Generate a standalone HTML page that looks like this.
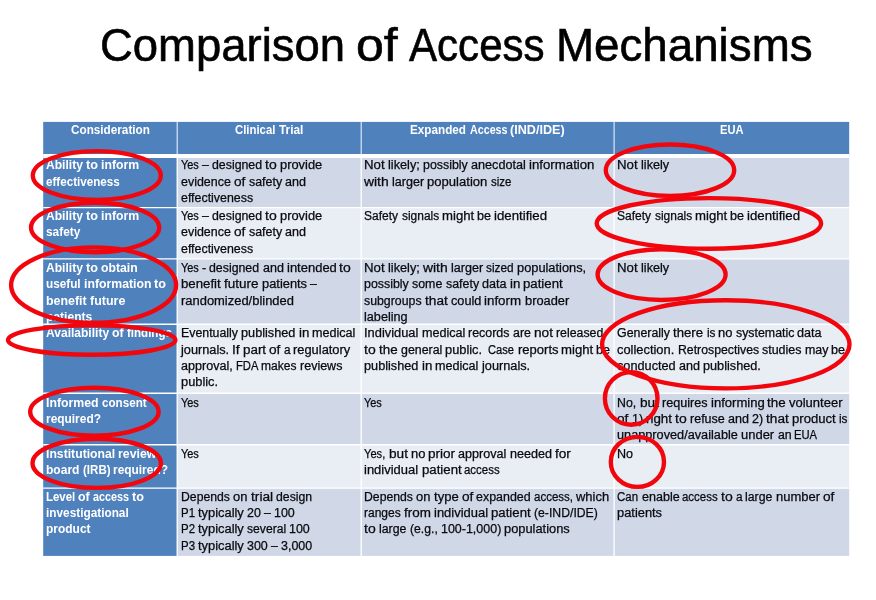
<!DOCTYPE html>
<html><head><meta charset="utf-8">
<style>
html,body{margin:0;padding:0;background:#fff;}
body{width:876px;height:600px;position:relative;overflow:hidden;font-family:"Liberation Sans",sans-serif;}
svg{position:absolute;left:0;top:0;}
.t{position:absolute;white-space:pre;line-height:20px;height:20px;transform-origin:0 0;font-size:12.5px;}
.w{color:#fff;font-weight:bold;}
.k{color:#0c0d14;-webkit-text-stroke:0.25px #000;}
.title{position:absolute;white-space:pre;color:#000;transform-origin:0 0;-webkit-text-stroke:0.6px #000;}
#wrap{position:absolute;left:0;top:0;width:876px;height:600px;filter:blur(0.6px);}
</style></head><body><div id="wrap">
<svg width="876" height="600" viewBox="0 0 876 600">
<rect x="43.20" y="121.90" width="134.00" height="34.05" fill="#4f81bd"/>
<rect x="177.20" y="121.90" width="184.00" height="34.05" fill="#4f81bd"/>
<rect x="361.20" y="121.90" width="252.90" height="34.05" fill="#4f81bd"/>
<rect x="614.10" y="121.90" width="235.10" height="34.05" fill="#4f81bd"/>
<rect x="43.20" y="155.95" width="134.00" height="51.65" fill="#4f81bd"/>
<rect x="177.20" y="155.95" width="184.00" height="51.65" fill="#d0d8e8"/>
<rect x="361.20" y="155.95" width="252.90" height="51.65" fill="#d0d8e8"/>
<rect x="614.10" y="155.95" width="235.10" height="51.65" fill="#d0d8e8"/>
<rect x="43.20" y="207.60" width="134.00" height="51.30" fill="#4f81bd"/>
<rect x="177.20" y="207.60" width="184.00" height="51.30" fill="#e9edf4"/>
<rect x="361.20" y="207.60" width="252.90" height="51.30" fill="#e9edf4"/>
<rect x="614.10" y="207.60" width="235.10" height="51.30" fill="#e9edf4"/>
<rect x="43.20" y="258.90" width="134.00" height="65.40" fill="#4f81bd"/>
<rect x="177.20" y="258.90" width="184.00" height="65.40" fill="#d0d8e8"/>
<rect x="361.20" y="258.90" width="252.90" height="65.40" fill="#d0d8e8"/>
<rect x="614.10" y="258.90" width="235.10" height="65.40" fill="#d0d8e8"/>
<rect x="43.20" y="324.30" width="134.00" height="69.00" fill="#4f81bd"/>
<rect x="177.20" y="324.30" width="184.00" height="69.00" fill="#e9edf4"/>
<rect x="361.20" y="324.30" width="252.90" height="69.00" fill="#e9edf4"/>
<rect x="614.10" y="324.30" width="235.10" height="69.00" fill="#e9edf4"/>
<rect x="43.20" y="393.30" width="134.00" height="51.50" fill="#4f81bd"/>
<rect x="177.20" y="393.30" width="184.00" height="51.50" fill="#d0d8e8"/>
<rect x="361.20" y="393.30" width="252.90" height="51.50" fill="#d0d8e8"/>
<rect x="614.10" y="393.30" width="235.10" height="51.50" fill="#d0d8e8"/>
<rect x="43.20" y="444.80" width="134.00" height="43.30" fill="#4f81bd"/>
<rect x="177.20" y="444.80" width="184.00" height="43.30" fill="#e9edf4"/>
<rect x="361.20" y="444.80" width="252.90" height="43.30" fill="#e9edf4"/>
<rect x="614.10" y="444.80" width="235.10" height="43.30" fill="#e9edf4"/>
<rect x="43.20" y="488.10" width="134.00" height="67.80" fill="#4f81bd"/>
<rect x="177.20" y="488.10" width="184.00" height="67.80" fill="#d0d8e8"/>
<rect x="361.20" y="488.10" width="252.90" height="67.80" fill="#d0d8e8"/>
<rect x="614.10" y="488.10" width="235.10" height="67.80" fill="#d0d8e8"/>
<line x1="177.20" y1="155.95" x2="177.20" y2="555.90" stroke="#fff" stroke-width="1.3"/>
<line x1="177.20" y1="121.90" x2="177.20" y2="155.95" stroke="#d6e4f8" stroke-width="1.2"/>
<line x1="361.20" y1="155.95" x2="361.20" y2="555.90" stroke="#fff" stroke-width="1.3"/>
<line x1="361.20" y1="121.90" x2="361.20" y2="155.95" stroke="#d6e4f8" stroke-width="1.2"/>
<line x1="614.10" y1="155.95" x2="614.10" y2="555.90" stroke="#fff" stroke-width="1.3"/>
<line x1="614.10" y1="121.90" x2="614.10" y2="155.95" stroke="#d6e4f8" stroke-width="1.2"/>
<line x1="43.20" y1="155.95" x2="849.20" y2="155.95" stroke="#fff" stroke-width="4.1"/>
<line x1="43.20" y1="207.60" x2="849.20" y2="207.60" stroke="#fff" stroke-width="1.4"/>
<line x1="43.20" y1="258.90" x2="849.20" y2="258.90" stroke="#fff" stroke-width="1.4"/>
<line x1="43.20" y1="324.30" x2="849.20" y2="324.30" stroke="#fff" stroke-width="1.4"/>
<line x1="43.20" y1="393.30" x2="849.20" y2="393.30" stroke="#fff" stroke-width="1.4"/>
<line x1="43.20" y1="444.80" x2="849.20" y2="444.80" stroke="#fff" stroke-width="1.4"/>
<line x1="43.20" y1="488.10" x2="849.20" y2="488.10" stroke="#fff" stroke-width="1.4"/>
</svg>
<div class="title" style="left:99.70px;top:14.96px;font-size:46.00px;line-height:60px;height:60px;transform:scaleX(0.9880);">Comparison</div>
<div class="title" style="left:356.06px;top:14.96px;font-size:46.00px;line-height:60px;height:60px;transform:scaleX(1.0883);">of</div>
<div class="title" style="left:409.15px;top:14.96px;font-size:46.00px;line-height:60px;height:60px;transform:scaleX(0.9147);">Access</div>
<div class="title" style="left:556.10px;top:14.96px;font-size:46.00px;line-height:60px;height:60px;transform:scaleX(0.9937);">Mechanisms</div>
<div class="t w" style="left:70.76px;top:120.07px;transform:scaleX(0.939)">Consideration</div>
<div class="t w" style="left:235.24px;top:120.07px;transform:scaleX(0.909)">Clinical</div><div class="t w" style="left:278.75px;top:120.07px;transform:scaleX(0.949)">Trial</div>
<div class="t w" style="left:410.49px;top:120.07px;transform:scaleX(0.937)">Expanded</div><div class="t w" style="left:469.55px;top:120.07px;transform:scaleX(0.857)">Access</div><div class="t w" style="left:510.18px;top:120.07px;transform:scaleX(1.009)">(IND/IDE)</div>
<div class="t w" style="left:719.89px;top:120.07px;transform:scaleX(0.891)">EUA</div>
<div class="t w" style="left:46.10px;top:155.32px;transform:scaleX(0.967)">Ability</div><div class="t w" style="left:86.13px;top:155.32px;transform:scaleX(1.014)">to</div><div class="t w" style="left:101.18px;top:155.32px;transform:scaleX(0.980)">inform</div>
<div class="t w" style="left:46.10px;top:171.62px;transform:scaleX(0.931)">effectiveness</div>
<div class="t k" style="left:181.10px;top:155.32px;transform:scaleX(0.875)">Yes</div><div class="t k" style="left:202.03px;top:155.32px;transform:scaleX(0.980)">–</div><div class="t k" style="left:211.94px;top:155.32px;transform:scaleX(0.987)">designed</div><div class="t k" style="left:265.14px;top:155.32px;transform:scaleX(1.119)">to</div><div class="t k" style="left:279.89px;top:155.32px;transform:scaleX(1.029)">provide</div>
<div class="t k" style="left:181.10px;top:171.62px;transform:scaleX(0.996)">evidence</div><div class="t k" style="left:234.02px;top:171.62px;transform:scaleX(1.092)">of</div><div class="t k" style="left:248.51px;top:171.62px;transform:scaleX(0.994)">safety</div><div class="t k" style="left:284.76px;top:171.62px;transform:scaleX(1.003)">and</div>
<div class="t k" style="left:181.10px;top:187.92px;transform:scaleX(0.991)">effectiveness</div>
<div class="t k" style="left:364.40px;top:155.32px;transform:scaleX(1.060)">Not</div><div class="t k" style="left:388.12px;top:155.32px;transform:scaleX(1.019)">likely;</div><div class="t k" style="left:423.07px;top:155.32px;transform:scaleX(0.991)">possibly</div><div class="t k" style="left:470.92px;top:155.32px;transform:scaleX(1.012)">anecdotal</div><div class="t k" style="left:528.85px;top:155.32px;transform:scaleX(1.059)">information</div>
<div class="t k" style="left:364.40px;top:171.62px;transform:scaleX(1.111)">with</div><div class="t k" style="left:392.18px;top:171.62px;transform:scaleX(1.007)">larger</div><div class="t k" style="left:427.45px;top:171.62px;transform:scaleX(1.046)">population</div><div class="t k" style="left:490.91px;top:171.62px;transform:scaleX(0.917)">size</div>
<div class="t k" style="left:617.40px;top:155.32px;transform:scaleX(1.060)">Not</div><div class="t k" style="left:641.12px;top:155.32px;transform:scaleX(1.015)">likely</div>
<div class="t w" style="left:46.10px;top:206.17px;transform:scaleX(0.967)">Ability</div><div class="t w" style="left:86.13px;top:206.17px;transform:scaleX(1.014)">to</div><div class="t w" style="left:101.18px;top:206.17px;transform:scaleX(0.980)">inform</div>
<div class="t w" style="left:46.10px;top:222.47px;transform:scaleX(0.948)">safety</div>
<div class="t k" style="left:181.10px;top:206.17px;transform:scaleX(0.875)">Yes</div><div class="t k" style="left:202.03px;top:206.17px;transform:scaleX(0.980)">–</div><div class="t k" style="left:211.94px;top:206.17px;transform:scaleX(0.987)">designed</div><div class="t k" style="left:265.14px;top:206.17px;transform:scaleX(1.119)">to</div><div class="t k" style="left:279.89px;top:206.17px;transform:scaleX(1.029)">provide</div>
<div class="t k" style="left:181.10px;top:222.47px;transform:scaleX(0.996)">evidence</div><div class="t k" style="left:234.02px;top:222.47px;transform:scaleX(1.092)">of</div><div class="t k" style="left:248.51px;top:222.47px;transform:scaleX(0.994)">safety</div><div class="t k" style="left:284.76px;top:222.47px;transform:scaleX(1.003)">and</div>
<div class="t k" style="left:181.10px;top:238.77px;transform:scaleX(0.991)">effectiveness</div>
<div class="t k" style="left:364.40px;top:206.17px;transform:scaleX(0.962)">Safety</div><div class="t k" style="left:401.59px;top:206.17px;transform:scaleX(0.955)">signals</div><div class="t k" style="left:441.84px;top:206.17px;transform:scaleX(1.052)">might</div><div class="t k" style="left:477.09px;top:206.17px;transform:scaleX(1.006)">be</div><div class="t k" style="left:494.17px;top:206.17px;transform:scaleX(1.060)">identified</div>
<div class="t k" style="left:617.40px;top:206.17px;transform:scaleX(0.962)">Safety</div><div class="t k" style="left:654.59px;top:206.17px;transform:scaleX(0.955)">signals</div><div class="t k" style="left:694.84px;top:206.17px;transform:scaleX(1.052)">might</div><div class="t k" style="left:730.09px;top:206.17px;transform:scaleX(1.006)">be</div><div class="t k" style="left:747.17px;top:206.17px;transform:scaleX(1.060)">identified</div>
<div class="t w" style="left:46.10px;top:258.17px;transform:scaleX(0.967)">Ability</div><div class="t w" style="left:86.13px;top:258.17px;transform:scaleX(1.014)">to</div><div class="t w" style="left:101.18px;top:258.17px;transform:scaleX(0.979)">obtain</div>
<div class="t w" style="left:46.10px;top:274.47px;transform:scaleX(0.940)">useful</div><div class="t w" style="left:83.81px;top:274.47px;transform:scaleX(0.981)">information</div><div class="t w" style="left:154.33px;top:274.47px;transform:scaleX(1.014)">to</div>
<div class="t w" style="left:46.10px;top:290.77px;transform:scaleX(0.993)">benefit</div><div class="t w" style="left:89.87px;top:290.77px;transform:scaleX(0.998)">future</div>
<div class="t w" style="left:46.10px;top:307.07px;transform:scaleX(0.966)">patients</div>
<div class="t k" style="left:181.10px;top:258.17px;transform:scaleX(0.875)">Yes</div><div class="t k" style="left:202.03px;top:258.17px;transform:scaleX(1.006)">-</div><div class="t k" style="left:209.32px;top:258.17px;transform:scaleX(0.987)">designed</div><div class="t k" style="left:262.51px;top:258.17px;transform:scaleX(1.003)">and</div><div class="t k" style="left:286.53px;top:258.17px;transform:scaleX(1.039)">intended</div><div class="t k" style="left:339.44px;top:258.17px;transform:scaleX(1.119)">to</div>
<div class="t k" style="left:181.10px;top:274.47px;transform:scaleX(1.058)">benefit</div><div class="t k" style="left:223.88px;top:274.47px;transform:scaleX(1.080)">future</div><div class="t k" style="left:261.50px;top:274.47px;transform:scaleX(1.029)">patients</div><div class="t k" style="left:309.63px;top:274.47px;transform:scaleX(0.980)">–</div>
<div class="t k" style="left:181.10px;top:290.77px;transform:scaleX(1.035)">randomized/blinded</div>
<div class="t k" style="left:364.40px;top:258.17px;transform:scaleX(1.060)">Not</div><div class="t k" style="left:388.12px;top:258.17px;transform:scaleX(1.019)">likely;</div><div class="t k" style="left:423.07px;top:258.17px;transform:scaleX(1.111)">with</div><div class="t k" style="left:450.85px;top:258.17px;transform:scaleX(1.007)">larger</div><div class="t k" style="left:486.12px;top:258.17px;transform:scaleX(0.945)">sized</div><div class="t k" style="left:516.79px;top:258.17px;transform:scaleX(1.025)">populations,</div>
<div class="t k" style="left:364.40px;top:274.47px;transform:scaleX(0.991)">possibly</div><div class="t k" style="left:412.25px;top:274.47px;transform:scaleX(0.991)">some</div><div class="t k" style="left:445.65px;top:274.47px;transform:scaleX(0.994)">safety</div><div class="t k" style="left:481.90px;top:274.47px;transform:scaleX(1.010)">data</div><div class="t k" style="left:509.58px;top:274.47px;transform:scaleX(1.061)">in</div><div class="t k" style="left:523.00px;top:274.47px;transform:scaleX(1.057)">patient</div>
<div class="t k" style="left:364.40px;top:290.77px;transform:scaleX(0.986)">subgroups</div><div class="t k" style="left:425.08px;top:290.77px;transform:scaleX(1.092)">that</div><div class="t k" style="left:450.95px;top:290.77px;transform:scaleX(1.017)">could</div><div class="t k" style="left:484.44px;top:290.77px;transform:scaleX(1.067)">inform</div><div class="t k" style="left:524.58px;top:290.77px;transform:scaleX(1.027)">broader</div>
<div class="t k" style="left:364.40px;top:307.07px;transform:scaleX(1.012)">labeling</div>
<div class="t k" style="left:617.40px;top:258.17px;transform:scaleX(1.060)">Not</div><div class="t k" style="left:641.12px;top:258.17px;transform:scaleX(1.015)">likely</div>
<div class="t w" style="left:46.10px;top:323.27px;transform:scaleX(0.963)">Availability</div><div class="t w" style="left:112.29px;top:323.27px;transform:scaleX(0.990)">of</div><div class="t w" style="left:127.07px;top:323.27px;transform:scaleX(0.924)">findings</div>
<div class="t k" style="left:181.10px;top:323.27px;transform:scaleX(0.989)">Eventually</div><div class="t k" style="left:241.26px;top:323.27px;transform:scaleX(1.016)">published</div><div class="t k" style="left:298.72px;top:323.27px;transform:scaleX(1.061)">in</div><div class="t k" style="left:312.14px;top:323.27px;transform:scaleX(1.008)">medical</div>
<div class="t k" style="left:181.10px;top:339.57px;transform:scaleX(1.019)">journals.</div><div class="t k" style="left:232.32px;top:339.57px;transform:scaleX(1.097)">If</div><div class="t k" style="left:243.03px;top:339.57px;transform:scaleX(1.072)">part</div><div class="t k" style="left:269.22px;top:339.57px;transform:scaleX(1.092)">of</div><div class="t k" style="left:283.70px;top:339.57px;transform:scaleX(0.943)">a</div><div class="t k" style="left:293.35px;top:339.57px;transform:scaleX(1.030)">regulatory</div>
<div class="t k" style="left:181.10px;top:355.87px;transform:scaleX(1.006)">approval,</div><div class="t k" style="left:235.91px;top:355.87px;transform:scaleX(0.897)">FDA</div><div class="t k" style="left:261.42px;top:355.87px;transform:scaleX(0.962)">makes</div><div class="t k" style="left:299.93px;top:355.87px;transform:scaleX(1.001)">reviews</div>
<div class="t k" style="left:181.10px;top:372.17px;transform:scaleX(1.026)">public.</div>
<div class="t k" style="left:364.40px;top:323.27px;transform:scaleX(1.029)">Individual</div><div class="t k" style="left:421.84px;top:323.27px;transform:scaleX(1.008)">medical</div><div class="t k" style="left:468.36px;top:323.27px;transform:scaleX(0.993)">records</div><div class="t k" style="left:512.85px;top:323.27px;transform:scaleX(0.993)">are</div><div class="t k" style="left:533.89px;top:323.27px;transform:scaleX(1.092)">not</div><div class="t k" style="left:555.97px;top:323.27px;transform:scaleX(0.985)">released</div>
<div class="t k" style="left:364.40px;top:339.57px;transform:scaleX(1.119)">to</div><div class="t k" style="left:379.16px;top:339.57px;transform:scaleX(1.069)">the</div><div class="t k" style="left:400.82px;top:339.57px;transform:scaleX(0.991)">general</div><div class="t k" style="left:445.22px;top:339.57px;transform:scaleX(1.026)">public.</div><div class="t k" style="left:488.49px;top:339.57px;transform:scaleX(0.891)">Case</div><div class="t k" style="left:517.59px;top:339.57px;transform:scaleX(1.041)">reports</div><div class="t k" style="left:561.18px;top:339.57px;transform:scaleX(1.052)">might</div><div class="t k" style="left:596.42px;top:339.57px;transform:scaleX(1.006)">be</div>
<div class="t k" style="left:364.40px;top:355.87px;transform:scaleX(1.016)">published</div><div class="t k" style="left:421.87px;top:355.87px;transform:scaleX(1.061)">in</div><div class="t k" style="left:435.29px;top:355.87px;transform:scaleX(1.008)">medical</div><div class="t k" style="left:481.80px;top:355.87px;transform:scaleX(1.019)">journals.</div>
<div class="t k" style="left:617.40px;top:323.27px;transform:scaleX(0.990)">Generally</div><div class="t k" style="left:673.44px;top:323.27px;transform:scaleX(1.052)">there</div><div class="t k" style="left:706.50px;top:323.27px;transform:scaleX(0.940)">is</div><div class="t k" style="left:718.08px;top:323.27px;transform:scaleX(1.036)">no</div><div class="t k" style="left:735.58px;top:323.27px;transform:scaleX(0.989)">systematic</div><div class="t k" style="left:797.04px;top:323.27px;transform:scaleX(1.010)">data</div>
<div class="t k" style="left:617.40px;top:339.57px;transform:scaleX(1.030)">collection.</div><div class="t k" style="left:677.72px;top:339.57px;transform:scaleX(0.982)">Retrospectives</div><div class="t k" style="left:762.04px;top:339.57px;transform:scaleX(0.996)">studies</div><div class="t k" style="left:804.58px;top:339.57px;transform:scaleX(0.992)">may</div><div class="t k" style="left:831.09px;top:339.57px;transform:scaleX(1.006)">be</div>
<div class="t k" style="left:617.40px;top:355.87px;transform:scaleX(1.017)">conducted</div><div class="t k" style="left:679.15px;top:355.87px;transform:scaleX(1.003)">and</div><div class="t k" style="left:703.17px;top:355.87px;transform:scaleX(1.015)">published.</div>
<div class="t w" style="left:46.10px;top:392.77px;transform:scaleX(0.984)">Informed</div><div class="t w" style="left:101.80px;top:392.77px;transform:scaleX(0.932)">consent</div>
<div class="t w" style="left:46.10px;top:409.07px;transform:scaleX(0.953)">required?</div>
<div class="t k" style="left:181.10px;top:392.77px;transform:scaleX(0.875)">Yes</div>
<div class="t k" style="left:364.40px;top:392.77px;transform:scaleX(0.875)">Yes</div>
<div class="t k" style="left:617.40px;top:392.77px;transform:scaleX(0.988)">No,</div><div class="t k" style="left:639.70px;top:392.77px;transform:scaleX(1.091)">but</div><div class="t k" style="left:661.75px;top:392.77px;transform:scaleX(1.011)">requires</div><div class="t k" style="left:710.50px;top:392.77px;transform:scaleX(1.047)">informing</div><div class="t k" style="left:767.41px;top:392.77px;transform:scaleX(1.069)">the</div><div class="t k" style="left:789.08px;top:392.77px;transform:scaleX(1.040)">volunteer</div>
<div class="t k" style="left:617.40px;top:409.07px;transform:scaleX(1.092)">of</div><div class="t k" style="left:631.88px;top:409.07px;transform:scaleX(0.997)">1)</div><div class="t k" style="left:646.06px;top:409.07px;transform:scaleX(1.069)">right</div><div class="t k" style="left:675.14px;top:409.07px;transform:scaleX(1.119)">to</div><div class="t k" style="left:689.90px;top:409.07px;transform:scaleX(1.002)">refuse</div><div class="t k" style="left:727.78px;top:409.07px;transform:scaleX(1.003)">and</div><div class="t k" style="left:751.80px;top:409.07px;transform:scaleX(0.997)">2)</div><div class="t k" style="left:765.98px;top:409.07px;transform:scaleX(1.092)">that</div><div class="t k" style="left:791.85px;top:409.07px;transform:scaleX(1.048)">product</div><div class="t k" style="left:838.63px;top:409.07px;transform:scaleX(0.940)">is</div>
<div class="t k" style="left:617.40px;top:425.37px;transform:scaleX(1.017)">unapproved/available</div><div class="t k" style="left:741.40px;top:425.37px;transform:scaleX(1.037)">under</div><div class="t k" style="left:777.63px;top:425.37px;transform:scaleX(0.988)">an</div><div class="t k" style="left:794.46px;top:425.37px;transform:scaleX(0.898)">EUA</div>
<div class="t w" style="left:46.10px;top:443.97px;transform:scaleX(0.977)">Institutional</div><div class="t w" style="left:118.39px;top:443.97px;transform:scaleX(0.986)">review</div>
<div class="t w" style="left:46.10px;top:460.27px;transform:scaleX(0.964)">board</div><div class="t w" style="left:82.68px;top:460.27px;transform:scaleX(0.923)">(IRB)</div><div class="t w" style="left:113.31px;top:460.27px;transform:scaleX(0.953)">required?</div>
<div class="t k" style="left:181.10px;top:443.97px;transform:scaleX(0.875)">Yes</div>
<div class="t k" style="left:364.40px;top:443.97px;transform:scaleX(0.891)">Yes,</div><div class="t k" style="left:388.75px;top:443.97px;transform:scaleX(1.091)">but</div><div class="t k" style="left:410.80px;top:443.97px;transform:scaleX(1.036)">no</div><div class="t k" style="left:428.29px;top:443.97px;transform:scaleX(1.083)">prior</div><div class="t k" style="left:458.46px;top:443.97px;transform:scaleX(1.007)">approval</div><div class="t k" style="left:509.86px;top:443.97px;transform:scaleX(1.006)">needed</div><div class="t k" style="left:554.93px;top:443.97px;transform:scaleX(1.088)">for</div>
<div class="t k" style="left:364.40px;top:460.27px;transform:scaleX(1.037)">individual</div><div class="t k" style="left:421.53px;top:460.27px;transform:scaleX(1.057)">patient</div><div class="t k" style="left:464.31px;top:460.27px;transform:scaleX(0.916)">access</div>
<div class="t k" style="left:617.40px;top:443.97px;transform:scaleX(1.004)">No</div>
<div class="t w" style="left:46.10px;top:486.67px;transform:scaleX(0.913)">Level</div><div class="t w" style="left:78.39px;top:486.67px;transform:scaleX(0.990)">of</div><div class="t w" style="left:93.17px;top:486.67px;transform:scaleX(0.863)">access</div><div class="t w" style="left:132.26px;top:486.67px;transform:scaleX(1.014)">to</div>
<div class="t w" style="left:46.10px;top:502.97px;transform:scaleX(0.945)">investigational</div>
<div class="t w" style="left:46.10px;top:519.27px;transform:scaleX(0.957)">product</div>
<div class="t k" style="left:181.10px;top:486.67px;transform:scaleX(0.978)">Depends</div><div class="t k" style="left:233.13px;top:486.67px;transform:scaleX(1.036)">on</div><div class="t k" style="left:250.63px;top:486.67px;transform:scaleX(1.101)">trial</div><div class="t k" style="left:275.91px;top:486.67px;transform:scaleX(0.980)">design</div>
<div class="t k" style="left:181.10px;top:502.97px;transform:scaleX(0.916)">P1</div><div class="t k" style="left:198.19px;top:502.97px;transform:scaleX(1.030)">typically</div><div class="t k" style="left:247.08px;top:502.97px;transform:scaleX(0.997)">20</div><div class="t k" style="left:264.04px;top:502.97px;transform:scaleX(0.980)">–</div><div class="t k" style="left:273.95px;top:502.97px;transform:scaleX(0.997)">100</div>
<div class="t k" style="left:181.10px;top:519.27px;transform:scaleX(0.916)">P2</div><div class="t k" style="left:198.19px;top:519.27px;transform:scaleX(1.030)">typically</div><div class="t k" style="left:247.08px;top:519.27px;transform:scaleX(0.971)">several</div><div class="t k" style="left:289.30px;top:519.27px;transform:scaleX(0.997)">100</div>
<div class="t k" style="left:181.10px;top:535.57px;transform:scaleX(0.916)">P3</div><div class="t k" style="left:198.19px;top:535.57px;transform:scaleX(1.030)">typically</div><div class="t k" style="left:247.08px;top:535.57px;transform:scaleX(0.997)">300</div><div class="t k" style="left:270.98px;top:535.57px;transform:scaleX(0.980)">–</div><div class="t k" style="left:280.88px;top:535.57px;transform:scaleX(0.996)">3,000</div>
<div class="t k" style="left:364.40px;top:486.67px;transform:scaleX(0.978)">Depends</div><div class="t k" style="left:416.43px;top:486.67px;transform:scaleX(1.036)">on</div><div class="t k" style="left:433.93px;top:486.67px;transform:scaleX(1.048)">type</div><div class="t k" style="left:461.79px;top:486.67px;transform:scaleX(1.092)">of</div><div class="t k" style="left:476.27px;top:486.67px;transform:scaleX(0.995)">expanded</div><div class="t k" style="left:534.00px;top:486.67px;transform:scaleX(0.921)">access,</div><div class="t k" style="left:576.13px;top:486.67px;transform:scaleX(1.035)">which</div>
<div class="t k" style="left:364.40px;top:502.97px;transform:scaleX(0.961)">ranges</div><div class="t k" style="left:404.20px;top:502.97px;transform:scaleX(1.075)">from</div><div class="t k" style="left:434.16px;top:502.97px;transform:scaleX(1.037)">individual</div><div class="t k" style="left:491.29px;top:502.97px;transform:scaleX(1.057)">patient</div><div class="t k" style="left:534.07px;top:502.97px;transform:scaleX(0.978)">(e-IND/IDE)</div>
<div class="t k" style="left:364.40px;top:519.27px;transform:scaleX(1.119)">to</div><div class="t k" style="left:379.16px;top:519.27px;transform:scaleX(0.986)">large</div><div class="t k" style="left:409.66px;top:519.27px;transform:scaleX(0.978)">(e.g.,</div><div class="t k" style="left:440.61px;top:519.27px;transform:scaleX(0.997)">100-1,000)</div><div class="t k" style="left:503.99px;top:519.27px;transform:scaleX(1.028)">populations</div>
<div class="t k" style="left:617.40px;top:486.67px;transform:scaleX(0.917)">Can</div><div class="t k" style="left:641.53px;top:486.67px;transform:scaleX(1.004)">enable</div><div class="t k" style="left:682.30px;top:486.67px;transform:scaleX(0.916)">access</div><div class="t k" style="left:721.02px;top:486.67px;transform:scaleX(1.119)">to</div><div class="t k" style="left:735.78px;top:486.67px;transform:scaleX(0.943)">a</div><div class="t k" style="left:745.42px;top:486.67px;transform:scaleX(0.986)">large</div><div class="t k" style="left:775.92px;top:486.67px;transform:scaleX(1.040)">number</div><div class="t k" style="left:823.08px;top:486.67px;transform:scaleX(1.092)">of</div>
<div class="t k" style="left:617.40px;top:502.97px;transform:scaleX(1.029)">patients</div>
<svg width="876" height="600" viewBox="0 0 876 600" fill="none" stroke="#f2060e" stroke-width="4.4">
<ellipse cx="96.80" cy="175.50" rx="64.00" ry="24.35"/>
<ellipse cx="95.10" cy="227.50" rx="64.10" ry="24.80"/>
<ellipse cx="93.60" cy="285.10" rx="82.50" ry="37.70"/>
<ellipse cx="91.70" cy="340.10" rx="83.70" ry="14.70"/>
<ellipse cx="94.40" cy="411.65" rx="64.20" ry="23.95"/>
<ellipse cx="96.70" cy="463.30" rx="64.20" ry="24.60"/>
<ellipse cx="670.00" cy="170.20" rx="64.20" ry="25.70"/>
<ellipse cx="708.90" cy="223.40" rx="112.20" ry="25.30"/>
<ellipse cx="661.60" cy="274.60" rx="64.00" ry="25.40"/>
<ellipse cx="725.80" cy="344.30" rx="123.70" ry="44.05"/>
<ellipse cx="631.20" cy="398.40" rx="26.30" ry="26.30"/>
<ellipse cx="637.40" cy="461.90" rx="26.60" ry="25.00"/>
</svg>
</div></body></html>
